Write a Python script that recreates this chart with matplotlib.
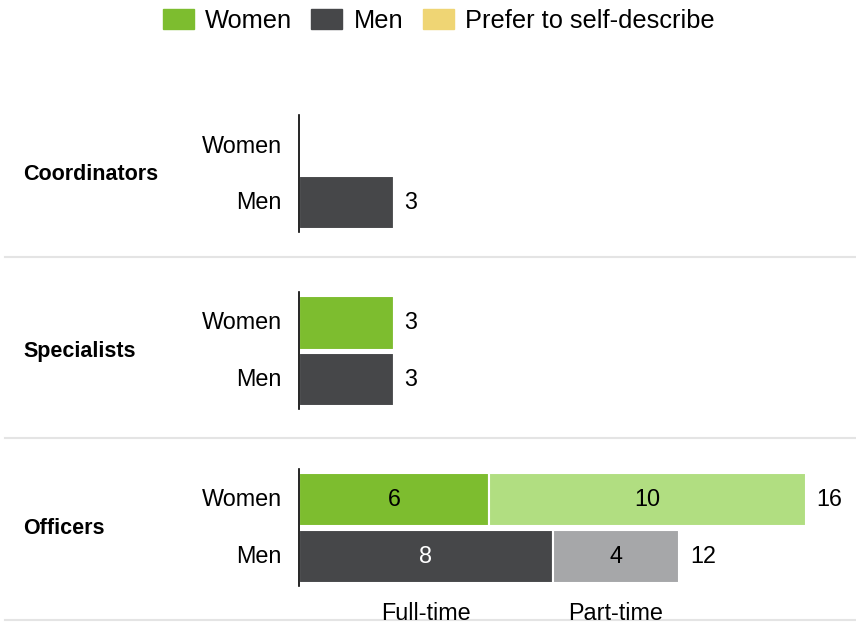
import matplotlib
matplotlib.use('Agg')
import matplotlib.pyplot as plt
from matplotlib.patches import Patch
from matplotlib.transforms import blended_transform_factory

groups = ['Coordinators', 'Specialists', 'Officers']
rows = ['Women', 'Men']
women_ft = [0, 3, 6]
women_pt = [0, 0, 10]
men_ft = [3, 3, 8]
men_pt = [0, 0, 4]
legend_labels = ['Women', 'Men', 'Prefer to self-describe']
segment_labels = ['Full-time', 'Part-time']

colors = {
    'Women': ('#7dbd2f', '#b1de81'),
    'Men': ('#464749', '#a6a7a9'),
}
self_color = '#efd574'

plt.rcParams['font.family'] = ['Liberation Sans', 'DejaVu Sans']

W, H = 856, 629
fig = plt.figure(figsize=(W / 100, H / 100), dpi=100)

# layout in pixels
x0 = 299
px_per_unit = 31.7
row_px = 56.7
first_row = 146
step = 3.12

ax = fig.add_axes([x0 / W, 0, 1 - x0 / W, 1])
ax.set_xlim(0, (W - x0) / px_per_unit)
ax.set_ylim((H - first_row) / row_px, -first_row / row_px)
ax.axis('off')

bar_h = 0.94
values = {'Women': (women_ft, women_pt), 'Men': (men_ft, men_pt)}
fs = 16.8

for g, name in enumerate(groups):
    base = g * step
    for r, who in enumerate(rows):
        y = base + r
        ft, pt = values[who][0][g], values[who][1][g]
        c_ft, c_pt = colors[who]
        ax.barh(y, ft, height=bar_h, color=c_ft, edgecolor='white', linewidth=1.5)
        ax.barh(y, pt, left=ft, height=bar_h, color=c_pt, edgecolor='white', linewidth=1.5)
        total = ft + pt
        if ft and pt:
            ax.text(ft / 2, y, str(ft), ha='center', va='center', fontsize=fs,
                    color='white' if who == 'Men' else 'black')
            ax.text(ft + pt / 2, y, str(pt), ha='center', va='center', fontsize=fs, color='black')
        if total:
            ax.text(total + 0.33, y, str(total), ha='left', va='center', fontsize=fs)
        ax.text(-17 / px_per_unit, y, who, ha='right', va='center', fontsize=fs)
    ax.text(-276 / px_per_unit, base + 0.5, name, ha='left', va='center',
            fontsize=15.5, fontweight='bold')
    ax.plot([0, 0], [base - 0.55, base + 1.52], color='black', lw=1.2, clip_on=False)

# segment labels under the last group
last = len(groups) - 1
ax.text(men_ft[last] / 2, last * step + 2.0, segment_labels[0], ha='center', va='center', fontsize=fs)
ax.text(men_ft[last] + men_pt[last] / 2, last * step + 2.0, segment_labels[1],
        ha='center', va='center', fontsize=fs)

# separators
tr = blended_transform_factory(fig.transFigure, ax.transData)
for ysep in [1.96, step + 2.03, 2 * step + 2.12]:
    ax.plot([5 / W, 1], [ysep, ysep], color='#e4e4e4', lw=1.5, transform=tr, clip_on=False)

handles = [Patch(color=colors['Women'][0]), Patch(color=colors['Men'][0]), Patch(color=self_color)]
fig.legend(handles, legend_labels, loc='center', bbox_to_anchor=(438.5 / W, 1 - 21 / H), ncol=3,
           frameon=False, fontsize=18.3, handlelength=1.22, handleheight=0.86,
           handletextpad=0.43, columnspacing=0.78, borderpad=0, borderaxespad=0)

fig.savefig('out.png', dpi=100)
